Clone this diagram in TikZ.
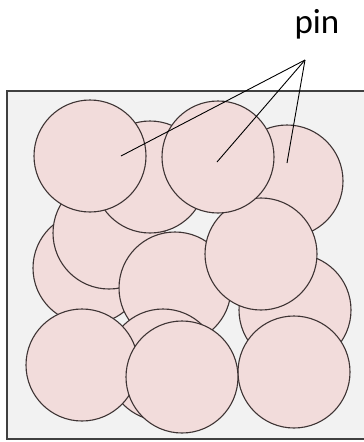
\documentclass[tikz,border=0pt]{standalone}
\usepackage{fontspec}
\setmainfont{Carlito}
\usepackage{tikz}
\usetikzlibrary{positioning}
\definecolor{grainfill}{HTML}{F2DCDB}
\definecolor{grainframe}{HTML}{3E3434}
\definecolor{boxfill}{HTML}{F2F2F2}
\definecolor{boxframe}{HTML}{404040}

\begin{document}
\begin{tikzpicture}[x=1pt,y=-1pt,
  grain/.style={circle,draw=grainframe,fill=grainfill,line width=1.1pt,
    minimum size=112pt,inner sep=0pt},
  leader/.style={draw=black,line width=0.9pt}]
  \useasboundingbox (0,0) rectangle (364,442);
  \clip (0,0) rectangle (364,442);
  \draw[boxframe,fill=boxfill,line width=1.2pt] (7,91) rectangle (372,439);
  % grains, back to front
  \foreach \n/\x/\y in {5/89/268,6/109/233,2/150/177,1/90/156,4/287/181,
      8/175/288,9/295/310,10/261/254,3/218/157,14/294/372,12/163/365,
      11/82/365,13/182/377}{
    \node[grain] (g\n) at (\x,\y) {};
  }
  % label
  \node[anchor=base,font=\fontsize{35}{42}\selectfont] (pin) at (317,33) {pin};
  \coordinate (apex) at (305,60);
  \coordinate (tip1) at (121,156);
  \coordinate (tip3) at (217,162);
  \coordinate (tip4) at (287,163);
  \foreach \t in {tip1,tip3,tip4}
    \draw[leader] (apex) -- (\t);
\end{tikzpicture}
\end{document}
